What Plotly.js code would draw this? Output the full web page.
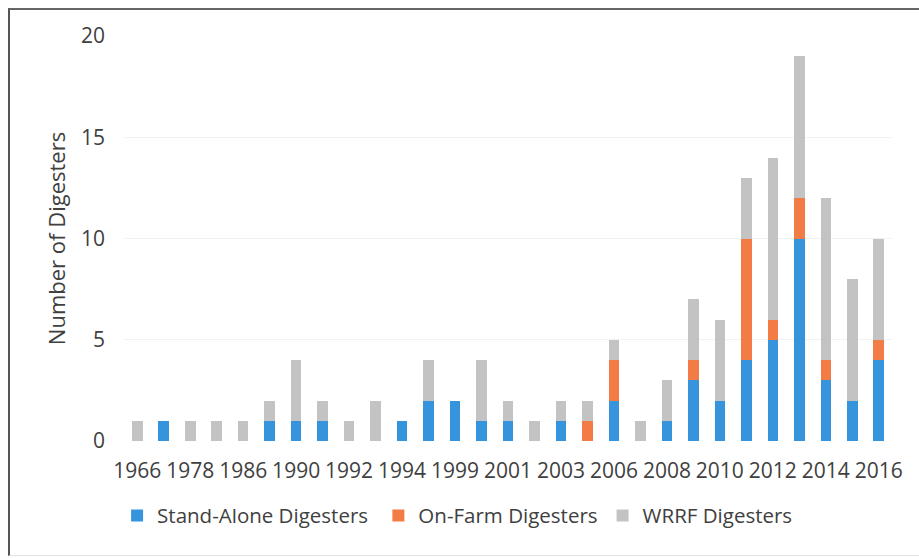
<!DOCTYPE html>
<html>
<head>
<meta charset="utf-8">
<script src="https://cdn.plot.ly/plotly-3.0.1.min.js"></script>
<style>
  html, body { margin: 0; padding: 0; background: #fff; }
  #chart { width: 919px; height: 558px; }
  #frame { position: absolute; left: 8px; top: 8px; width: 920px; height: 545px;
           border-left: 2px solid #555; border-top: 2px solid #666; border-bottom: 1px solid #e2e2e2;
           pointer-events: none; }
</style>
</head>
<body>
<div id="chart"></div>
<div id="frame"></div>
<script>
// Categories (installation years); only every other label is shown on the axis
const years = ["1966","1975","1978","1982","1986","1988","1990","1991","1992","1993",
               "1994","1996","1999","2000","2001","2002","2003","2005","2006","2007",
               "2008","2009","2010","2011","2012","2013","2014","2015","2016"];
const standAlone = [0,1,0,0,0,1,1,1,0,0, 1,2,2,1,1,0,1,0,2,0, 1,3,2,4,5,10,3,2,4];
const onFarm     = [0,0,0,0,0,0,0,0,0,0, 0,0,0,0,0,0,0,1,2,0, 0,1,0,6,1,2,1,0,1];
const wrrf       = [1,0,1,1,1,1,3,1,1,2, 0,2,0,3,1,1,1,1,1,1, 2,3,4,3,8,7,8,6,5];
const seriesNames = ["Stand-Alone Digesters","On-Farm Digesters","WRRF Digesters"];
const shownTicks = years.filter((y, i) => i % 2 === 0);

const colors = ["#3594DC", "#F27B46", "#C3C3C3"];
const fontFam = "'Open Sans', 'Liberation Sans', sans-serif";
const pad = ["\u00a0", "", ""];

const traces = [standAlone, onFarm, wrrf].map((vals, k) => ({
  type: "bar",
  name: seriesNames[k] + pad[k],
  x: years,
  y: vals,
  marker: { color: colors[k] },
  hoverinfo: "x+y+name"
}));

const layout = {
  width: 919, height: 558,
  barmode: "stack",
  bargap: 0.6,
  paper_bgcolor: "#ffffff",
  plot_bgcolor: "#ffffff",
  margin: { l: 124, r: 27, t: 36, b: 117 },
  font: { family: fontFam, color: "#404040", size: 21 },
  xaxis: {
    type: "category",
    categoryorder: "array",
    categoryarray: years,
    tickmode: "array",
    tickvals: shownTicks,
    ticktext: shownTicks,
    tickangle: 0,
    ticklabelstandoff: 15,
    tickfont: { size: 21, color: "#404040" },
    showgrid: false,
    showline: false,
    ticks: "",
    zeroline: false
  },
  yaxis: {
    range: [0, 20],
    dtick: 5,
    tick0: 0,
    showgrid: true,
    gridcolor: "#f2f2f2",
    gridwidth: 1,
    zeroline: false,
    showline: false,
    ticks: "",
    ticklabelstandoff: 18,
    tickfont: { size: 21, color: "#404040" },
    title: { text: "Number of Digesters", font: { size: 22, color: "#404040" }, standoff: 9 }
  },
  legend: {
    orientation: "h",
    x: -0.009, xanchor: "left",
    y: -0.135, yanchor: "top",
    itemwidth: 30,
    tracegroupgap: 0,
    font: { size: 20.5, color: "#404040" },
    traceorder: "normal"
  },
  showlegend: true
};

Plotly.newPlot("chart", traces, layout, { displayModeBar: false, staticPlot: true });
</script>
</body>
</html>
